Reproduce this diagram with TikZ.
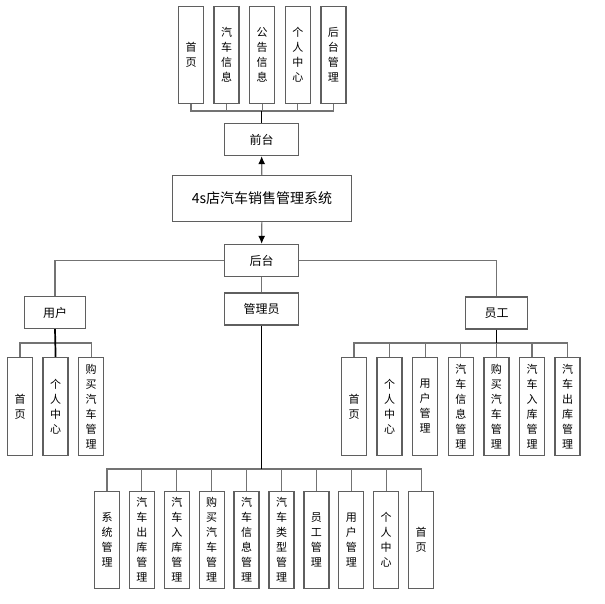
\documentclass[tikz,border=0pt]{standalone}
\usepackage{fontspec}
\newfontfamily\cjk{Noto Sans CJK SC}
\usetikzlibrary{arrows.meta,positioning}
\definecolor{boxgray}{RGB}{95,95,95}
\definecolor{linegray}{RGB}{115,115,115}
\tikzstyle{vbox} = [rectangle,draw=boxgray,line width=1.3pt,minimum width=25,minimum height=97,inner sep=0,align=center,font=\cjk\fontsize{11}{15}\selectfont]
\tikzstyle{hbox} = [rectangle,draw=boxgray,line width=1.3pt,minimum width=74,minimum height=32,font=\cjk\fontsize{12}{14}\selectfont]
\tikzstyle{link} = [draw=linegray,line width=1.1pt]
\tikzstyle{trunk} = [draw=black,line width=1.7pt]
\begin{document}
\begin{tikzpicture}[x=1pt,y=-1pt,>={Latex[length=8pt,width=7pt,color=black]},node distance=9.3]
\useasboundingbox[fill=white] (0,0) rectangle (605,604);
% centre column
\node[hbox] (qiantai) at (261.5,139.5) {前台};
\node[hbox,minimum width=179,minimum height=46,font=\cjk\fontsize{14}{16}\selectfont] (sys) at (262,198.5) {4s店汽车销售管理系统};
\node[hbox] (houtai) at (261.5,260.5) {后台};
\node[hbox] (gly) at (261.5,309) {管理员};
\node[hbox,minimum width=61] (yonghu) at (55,312.5) {用户};
\node[hbox,minimum width=62] (yuangong) at (496.5,313) {员工};
\draw[link,->] (sys) -- (qiantai);
\draw[link,->] (sys) -- (houtai);
\draw[link] (houtai.west) -| (yonghu.north);
\draw[link] (houtai.east) -| (yuangong.north);
\draw[link] (houtai) -- (gly);

% front end
\node[vbox] (q1) at (191,55) {首\\页};
\node[vbox] (q2) [right=of q1] {汽\\车\\信\\息};
\node[vbox] (q3) [right=of q2] {公\\告\\信\\息};
\node[vbox] (q4) [right=of q3] {个\\人\\中\\心};
\node[vbox] (q5) [right=of q4] {后\\台\\管\\理};
\coordinate (qbus) at (261.5,111);
\draw[link] (qbus) -| (q1.south) (qbus) -| (q2.south) (qbus) -| (q3.south)
  (qbus) -| (q4.south) (qbus) -| (q5.south);
\draw[trunk] (qbus) -- (qiantai.north);

% user
\node[vbox,minimum height=98] (u1) at (20,406.5) {首\\页};
\node[vbox,minimum height=98] (u2) [right=of u1] {个\\人\\中\\心};
\node[vbox,minimum height=98] (u3) [right=of u2] {购\\买\\汽\\车\\管\\理};
\coordinate (ubus) at (55,343);
\draw[link] (ubus) -| (u1.north) (ubus) -| (u3.north);
\draw[trunk] (yonghu.south) -- (u2.north);

% staff
\node[vbox,minimum height=98] (e1) at (354,406.5) {首\\页};
\node[vbox,minimum height=98] (e2) [right=of e1] {个\\人\\中\\心};
\node[vbox,minimum height=98] (e3) [right=of e2] {用\\户\\管\\理};
\node[vbox,minimum height=98] (e4) [right=of e3] {汽\\车\\信\\息\\管\\理};
\node[vbox,minimum height=98] (e5) [right=of e4] {购\\买\\汽\\车\\管\\理};
\node[vbox,minimum height=98] (e6) [right=of e5] {汽\\车\\入\\库\\管\\理};
\node[vbox,minimum height=98] (e7) [right=of e6] {汽\\车\\出\\库\\管\\理};
\coordinate (ebus) at (496.5,343);
\draw[link] (ebus) -| (e1.north) (ebus) -| (e2.north) (ebus) -| (e3.north)
  (ebus) -| (e4.north) (ebus) -| (e5.north) (ebus) -| (e6.north) (ebus) -| (e7.north);
\draw[trunk] (yuangong.south) -- (ebus);

% admin
\begin{scope}[node distance=8.6,every node/.append style={minimum height=113}]
\node[vbox] (a1) at (107,540) {系\\统\\管\\理};
\node[vbox] (a2) [right=of a1] {汽\\车\\出\\库\\管\\理};
\node[vbox] (a3) [right=of a2] {汽\\车\\入\\库\\管\\理};
\node[vbox] (a4) [right=of a3] {购\\买\\汽\\车\\管\\理};
\node[vbox] (a5) [right=of a4] {汽\\车\\信\\息\\管\\理};
\node[vbox] (a6) [right=of a5] {汽\\车\\类\\型\\管\\理};
\node[vbox] (a7) [right=of a6] {员\\工\\管\\理};
\node[vbox] (a8) [right=of a7] {用\\户\\管\\理};
\node[vbox] (a9) [right=of a8] {个\\人\\中\\心};
\node[vbox] (a10) [right=of a9] {首\\页};
\end{scope}
\coordinate (gbus) at (261.5,469);
\draw[link] (gbus) -| (a1.north) (gbus) -| (a2.north) (gbus) -| (a3.north)
  (gbus) -| (a4.north) (gbus) -| (a5.north) (gbus) -| (a6.north) (gbus) -| (a7.north)
  (gbus) -| (a8.north) (gbus) -| (a9.north) (gbus) -| (a10.north);
\draw[trunk] (gly.south) -- (gbus);
\end{tikzpicture}
\end{document}
